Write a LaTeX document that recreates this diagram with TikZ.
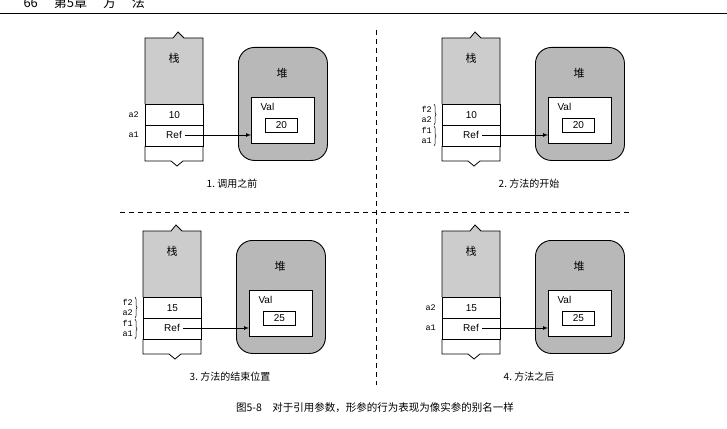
\documentclass[tikz,border=0pt]{standalone}
\usepackage{fontspec}
\setmainfont{Liberation Sans}
\newfontfamily\cjk{Noto Sans CJK SC}
\newfontfamily\lmono{Liberation Mono}
\usetikzlibrary{decorations.pathreplacing}
\definecolor{heapgray}{gray}{0.72}
\definecolor{stackgray}{gray}{0.8}
\tikzset{
  stk/.style={draw, line width=0.8pt},
  cell/.style={draw, line width=0.8pt, fill=white},
  heap/.style={draw, line width=0.9pt, fill=heapgray, rounded corners=16pt},
  txt/.style={font=\fontsize{10}{10}\selectfont},
  cjkt/.style={font=\cjk\fontsize{11}{11}\selectfont},
  varl/.style={font=\lmono\fontsize{8.5}{8.5}\selectfont, anchor=east, inner sep=0pt},
  captext/.style={font=\cjk\fontsize{10}{10}\selectfont},
  arr/.style={-latex, line width=0.7pt},
  br/.style={decorate, decoration={brace, amplitude=2pt}, line width=0.5pt},
  sep/.style={line width=0.8pt, dash pattern=on 5pt off 4pt}
}
\newcommand\mypanel[7]{%
\begin{scope}[shift={(#2,#3)}]
  \fill[stackgray] (145,38)--(173,38)--(178,32)--(184,38)--(203,38)--(203,104)--(145,104)--cycle;
  \draw[stk] (145,104)--(145,38)--(173,38)--(178,32)--(184,38)--(203,38)--(203,104);
  \node[cell, minimum width=58pt, minimum height=21pt, inner sep=0pt, anchor=north west] (#1v) at (145,104) {};
  \node[txt] at (#1v.center) {#4};
  \node[cell, minimum width=58pt, minimum height=21pt, inner sep=0pt, anchor=north west] (#1r) at (145,125) {};
  \node[txt] (#1rt) at (174,135) {Ref};
  \draw[stk] (145,146)--(145,161)--(171,161)--(177,166)--(183,161)--(203,161)--(203,146);
  \node[cjkt] at (174,58) {栈};
  \node[heap, minimum width=89pt, minimum height=113pt, anchor=north west] (#1h) at (238,47) {};
  \node[cjkt] at (282,73) {堆};
  \node[cell, minimum width=63pt, minimum height=46pt, inner sep=0pt, anchor=north west] (#1o) at (251,97) {};
  \node[txt, anchor=west] at (257,107) {Val};
  \node[cell, minimum width=32pt, minimum height=14pt, inner sep=0pt, anchor=north west] (#1n) at (265,118) {};
  \node[txt] at (#1n.center) {#5};
  \coordinate (#1e) at (251,135);
  \draw[arr] (#1rt.east) -- (#1e);
  \node[captext] at (232,184) {#6};
  \ifnum#7=0
    \node[varl] at (139,115) {a2};
    \node[varl] at (139,135) {a1};
  \else
    \node[varl] at (135,109) {f2};
    \node[varl] at (135,120) {a2};
    \node[varl] at (135,130) {f1};
    \node[varl] at (135,141) {a1};
    \draw[br] (137,104)--(137,125);
    \draw[br] (137,126)--(137,146);
  \fi
\end{scope}}
\begin{document}
\begin{tikzpicture}[x=1pt,y=-1pt]
\useasboundingbox (0,0) rectangle (727,428);
\fill[white] (0,0) rectangle (727,428);
\begin{scope}
\clip (0,0) rectangle (727,12);
\node[font=\cjk\fontsize{13}{13}\selectfont, anchor=west] at (20,2) {66 \quad 第5章 \quad 方 \quad 法};
\end{scope}
\draw[line width=0.9pt] (0,13)--(727,13);
\mypanel{p}{0}{0}{10}{20}{1.\ 调用之前}{0}
\mypanel{q}{297}{0}{10}{20}{2.\ 方法的开始}{1}
\mypanel{r}{-2}{193}{15}{25}{3.\ 方法的结束位置}{1}
\mypanel{s}{297}{193}{15}{25}{4.\ 方法之后}{0}
\draw[sep] (376,30)--(376,385);
\draw[sep] (120,212)--(632,212);
\node[font=\cjk\fontsize{10.5}{11}\selectfont] at (375,408) {图5-8\quad 对于引用参数，形参的行为表现为像实参的别名一样};
\end{tikzpicture}
\end{document}
